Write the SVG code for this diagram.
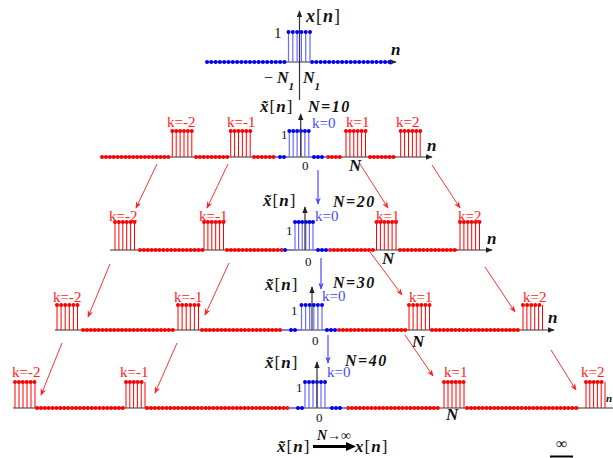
<svg xmlns="http://www.w3.org/2000/svg" width="613" height="458" viewBox="0 0 613 458" font-family="'Liberation Serif','DejaVu Serif',serif">
<style>
text{font-family:"Liberation Serif","DejaVu Serif",serif}
.ax{stroke:#333;stroke-width:1.2;fill:none}
.ra{stroke:#f00;stroke-width:1;fill:none}
.rd{stroke:#f00;stroke-width:4;stroke-linecap:round;stroke-dasharray:0 3.9;fill:none}
.bd{stroke:#0000f0;stroke-width:4;stroke-linecap:round;stroke-dasharray:0 4.3;fill:none}
.bdd{stroke:#0000f0;stroke-width:4;stroke-linecap:round;stroke-dasharray:0 4;fill:none}
.rs{stroke:#f00;stroke-width:1;fill:none}
.bs{stroke:#6a6aff;stroke-width:1.2;fill:none}
.bl{stroke:#6a6aff;stroke-width:1;fill:none}
.lab{font-weight:bold;font-style:italic;fill:#111}
.br{font-style:normal;font-weight:normal}
.num{font-size:13px;fill:#111}
.kr{font-size:15px;fill:#f22}
.kb{font-size:15px;fill:#4a4aff}
.ca{stroke:#f33;stroke-width:1;fill:none}
.cb{stroke:#4a4aff;stroke-width:1.2;fill:none}
</style>
<defs>
<marker id="ak" viewBox="0 0 10 10" refX="9" refY="5" markerWidth="7" markerHeight="7" markerUnits="userSpaceOnUse" orient="auto"><path d="M0,1 L10,5 L0,9 z" fill="#222"/></marker>
<marker id="ar" viewBox="0 0 10 10" refX="9" refY="5" markerWidth="7" markerHeight="7" markerUnits="userSpaceOnUse" orient="auto"><path d="M0,1 L10,5 L0,9 L3,5 z" fill="#f22"/></marker>
<marker id="ab" viewBox="0 0 10 10" refX="9" refY="5" markerWidth="7" markerHeight="7" markerUnits="userSpaceOnUse" orient="auto"><path d="M0,1 L10,5 L0,9 L3,5 z" fill="#4a4aff"/></marker>
</defs>

<g id="plot-x">
<path class="ax" d="M207,62 H396" marker-end="url(#ak)"/>
<path class="bl" d="M207,62 H285 M312,62 H392"/>
<path class="bd" d="M207,62 H286 M312,62 H393"/>
<path class="bs" d="M288.5,62 V32 M292.8,62 V32 M297.1,62 V32 M301.4,62 V32 M305.7,62 V32 M310,62 V32"/>
<path class="bd" d="M288.5,32 H311"/>
<path class="ax" d="M299.5,100 V11" marker-end="url(#ak)"/>
<text class="lab" x="306" y="22" font-size="18" letter-spacing="1">x<tspan class="br">[</tspan>n<tspan class="br">]</tspan></text>
<text x="274" y="38" font-size="15" fill="#111">1</text>
<text class="lab" x="391" y="55" font-size="17">n</text>
<text class="lab" x="264" y="83" font-size="16"><tspan class="br">−</tspan> N<tspan font-size="11" dy="7">1</tspan></text>
<text class="lab" x="303" y="83" font-size="16">N<tspan font-size="11" dy="7">1</tspan></text>
</g>

<g id="plot-n10">
<path class="ax" d="M102,157 H432" marker-end="url(#ak)"/>
<path class="ra" d="M102,157 H170 M196,157 H228 M254,157 H276 M328,157 H342 M370,157 H396"/>
<path class="rd" d="M102,157 H171 M196,157 H229 M254,157 H276 M328,157 H343 M370,157 H396"/>
<path class="bl" d="M276,157 H289 M310,157 H328"/>
<path class="bdd" d="M280,157 H285 M314,157 H323.5"/>
<path class="rs" d="M172.3,157 V131 M176.2,157 V131 M180.1,157 V131 M184,157 V131 M187.9,157 V131 M191.8,157 V131 M230.7,157 V131 M234.6,157 V131 M238.5,157 V131 M242.4,157 V131 M246.3,157 V131 M250.2,157 V131 M346,157 V131 M349.9,157 V131 M353.8,157 V131 M357.7,157 V131 M361.6,157 V131 M365.5,157 V131 M400.7,157 V131 M404.6,157 V131 M408.5,157 V131 M412.4,157 V131 M416.3,157 V131 M420.2,157 V131"/>
<path class="rd" d="M172.3,131 H192.5 M230.7,131 H251 M346,131 H366 M400.7,131 H421"/>
<path class="bs" d="M289.3,157 V131 M293.2,157 V131 M297.1,157 V131 M301,157 V131 M304.9,157 V131 M308.8,157 V131"/>
<path class="bd" d="M289.3,131 H309.5" style="stroke-dasharray:0 3.9"/>
<path class="ax" d="M300.7,157 V114" marker-end="url(#ak)"/>
<text class="lab" x="260" y="112" font-size="17" letter-spacing="1">x&#771;<tspan class="br">[</tspan>n<tspan class="br">]</tspan></text>
<text class="lab" x="308" y="112" font-size="16" letter-spacing="1.5">N=10</text>
<text class="kb" x="312" y="128">k=0</text>
<text class="num" x="281" y="139">1</text>
<text class="num" x="302" y="170">0</text>
<text class="kr" x="167" y="127">k=-2</text>
<text class="kr" x="227" y="127">k=-1</text>
<text class="kr" x="346" y="127">k=1</text>
<text class="kr" x="396" y="127">k=2</text>
<text class="lab" x="427" y="151" font-size="17">n</text>
<text class="lab" x="349" y="171" font-size="17">N</text>
</g>

<g id="plot-n20">
<path class="ax" d="M110,250 H492" marker-end="url(#ak)"/>
<path class="ra" d="M140,250 H202 M227,250 H282 M330,250 H373 M400,250 H458"/>
<path class="rd" d="M140,250 H203 M227,250 H283 M330,250 H373 M400,250 H458"/>
<path class="bl" d="M282,250 H295 M313,250 H330"/>
<path class="bdd" d="M285,250 H289 M318,250 H326.5"/>
<path class="rs" d="M115,250 V222 M118.9,250 V222 M122.8,250 V222 M126.7,250 V222 M130.6,250 V222 M134.5,250 V222 M204,250 V222 M207.9,250 V222 M211.8,250 V222 M215.7,250 V222 M219.6,250 V222 M223.5,250 V222 M376.5,250 V222 M380.4,250 V222 M384.3,250 V222 M388.2,250 V222 M392.1,250 V222 M396,250 V222 M460,250 V222 M463.9,250 V222 M467.8,250 V222 M471.7,250 V222 M475.6,250 V222 M479.5,250 V222"/>
<path class="rd" d="M115,222 H135 M204,222 H224 M376.5,222 H396.5 M460,222 H480"/>
<path class="bs" d="M295,250 V222 M298.6,250 V222 M302.2,250 V222 M305.8,250 V222 M309.4,250 V222 M313,250 V222"/>
<path class="bd" d="M295,222 H313.5" style="stroke-dasharray:0 3.6"/>
<path class="ax" d="M305,250 V207" marker-end="url(#ak)"/>
<text class="lab" x="263" y="206" font-size="17" letter-spacing="1">x&#771;<tspan class="br">[</tspan>n<tspan class="br">]</tspan></text>
<text class="lab" x="333" y="207" font-size="16" letter-spacing="1.5">N=20</text>
<text class="kb" x="315" y="221">k=0</text>
<text class="num" x="286" y="235">1</text>
<text class="num" x="305" y="266">0</text>
<text class="kr" x="109" y="221">k=-2</text>
<text class="kr" x="199" y="221">k=-1</text>
<text class="kr" x="376" y="221">k=1</text>
<text class="kr" x="458" y="221">k=2</text>
<text class="lab" x="487" y="244" font-size="17">n</text>
<text class="lab" x="382" y="264" font-size="17">N</text>
</g>

<g id="plot-n30">
<path class="ax" d="M55,330 H554" marker-end="url(#ak)"/>
<path class="ra" d="M83,330 H175 M202,330 H282 M339,330 H406 M432,330 H518"/>
<path class="rd" d="M83,330 H176 M202,330 H283 M339,330 H406 M432,330 H518"/>
<path class="bl" d="M282,330 H302 M322,330 H339"/>
<path class="bdd" d="M291,330 H295.5 M327,330 H335.5"/>
<path class="rs" d="M57,330 V305 M61.1,330 V305 M65.2,330 V305 M69.3,330 V305 M73.4,330 V305 M77.5,330 V305 M178,330 V305 M182.1,330 V305 M186.2,330 V305 M190.3,330 V305 M194.4,330 V305 M198.5,330 V305 M409,330 V305 M413.1,330 V305 M417.2,330 V305 M421.3,330 V305 M425.4,330 V305 M429.5,330 V305 M523,330 V305 M526.9,330 V305 M530.8,330 V305 M534.7,330 V305 M538.6,330 V305 M542.5,330 V305"/>
<path class="rd" d="M57,305 H78 M178,305 H199 M409,305 H430 M523,305 H543" style="stroke-dasharray:0 4.1"/>
<path class="bs" d="M301.5,330 V305 M305.6,330 V305 M309.7,330 V305 M313.8,330 V305 M317.9,330 V305 M322,330 V305"/>
<path class="bd" d="M301.5,305 H322.5" style="stroke-dasharray:0 4.1"/>
<path class="ax" d="M312,330 V287" marker-end="url(#ak)"/>
<text class="lab" x="265" y="290" font-size="17" letter-spacing="1">x&#771;<tspan class="br">[</tspan>n<tspan class="br">]</tspan></text>
<text class="lab" x="333" y="288" font-size="16" letter-spacing="1.5">N=30</text>
<text class="kb" x="322" y="301">k=0</text>
<text class="num" x="291" y="315">1</text>
<text class="num" x="312" y="345">0</text>
<text class="kr" x="53" y="302">k=-2</text>
<text class="kr" x="174" y="302">k=-1</text>
<text class="kr" x="409" y="302">k=1</text>
<text class="kr" x="523" y="302">k=2</text>
<text class="lab" x="548" y="323" font-size="17">n</text>
<text class="lab" x="412" y="347" font-size="17">N</text>
</g>

<g id="plot-n40">
<path class="ax" d="M13,408 H613"/>
<path class="ra" d="M37,408 H123 M147,408 H287 M348,408 H440 M467,408 H579"/>
<path class="rd" d="M37,408 H124 M147,408 H288 M348,408 H441 M467,408 H579"/>
<path class="bl" d="M287,408 H305 M325,408 H348"/>
<path class="bdd" d="M298,408 H302.5 M332,408 H340.5"/>
<path class="rs" d="M15,408 V382 M19,408 V382 M23,408 V382 M27,408 V382 M31,408 V382 M35,408 V382 M126,408 V382 M129.8,408 V382 M133.6,408 V382 M137.4,408 V382 M141.2,408 V382 M145,408 V382 M444,408 V382 M448,408 V382 M452,408 V382 M456,408 V382 M460,408 V382 M464,408 V382 M586,408 V382 M589.8,408 V382 M593.6,408 V382 M597.4,408 V382 M601.2,408 V382 M605,408 V382"/>
<path class="rd" d="M15,382 H35.5 M126,382 H145.5 M444,382 H464.5 M586,382 H605.5"/>
<path class="bs" d="M305,408 V382 M309,408 V382 M313,408 V382 M317,408 V382 M321,408 V382 M325,408 V382"/>
<path class="bd" d="M305,382 H325.5" style="stroke-dasharray:0 4"/>
<path class="ax" d="M317,408 V362" marker-end="url(#ak)"/>
<text class="lab" x="265" y="368" font-size="17" letter-spacing="1">x&#771;<tspan class="br">[</tspan>n<tspan class="br">]</tspan></text>
<text class="lab" x="345" y="366" font-size="16" letter-spacing="1.5">N=40</text>
<text class="kb" x="327" y="377">k=0</text>
<text class="num" x="296" y="392">1</text>
<text class="num" x="316" y="422">0</text>
<text class="kr" x="12" y="377">k=-2</text>
<text class="kr" x="120" y="377">k=-1</text>
<text class="kr" x="444" y="377">k=1</text>
<text class="kr" x="581" y="377">k=2</text>
<text class="lab" x="446" y="420" font-size="17">N</text>
<text class="lab" x="606" y="402" font-size="11">n</text>
</g>

<g id="limit">
<text class="lab" x="277" y="452" font-size="17" letter-spacing="1">x&#771;<tspan class="br">[</tspan>n<tspan class="br">]</tspan></text>
<text class="lab" x="317" y="440" font-size="14">N→∞</text>
<path d="M313,446.5 H348" stroke="#000" stroke-width="3"/>
<path d="M346,442 L356,446.5 L346,451 z" fill="#000"/>
<text class="lab" x="355" y="452" font-size="17" letter-spacing="1">x<tspan class="br">[</tspan>n<tspan class="br">]</tspan></text>
<text x="556" y="449" font-size="16" fill="#111">∞</text>
<path d="M550,456.5 H573" stroke="#000" stroke-width="2"/>
</g>

<g id="connectors">
<path class="ca" d="M157,164 L136,208" marker-end="url(#ar)"/>
<path class="ca" d="M228,164 L207,208" marker-end="url(#ar)"/>
<path class="ca" d="M360,164 L388,208" marker-end="url(#ar)"/>
<path class="ca" d="M432,165 L460,208" marker-end="url(#ar)"/>
<path class="ca" d="M110,264 L88,317" marker-end="url(#ar)"/>
<path class="ca" d="M229,263 L205,315" marker-end="url(#ar)"/>
<path class="ca" d="M370,252 L402,295" marker-end="url(#ar)"/>
<path class="ca" d="M485,267 L515,312" marker-end="url(#ar)"/>
<path class="ca" d="M62,343 L41,395" marker-end="url(#ar)"/>
<path class="ca" d="M177,343 L155,393" marker-end="url(#ar)"/>
<path class="ca" d="M405,335 L433,376" marker-end="url(#ar)"/>
<path class="ca" d="M551,350 L576,390" marker-end="url(#ar)"/>
<path class="cb" d="M318,170 V204" marker-end="url(#ab)"/>
<path class="cb" d="M321,258 V289" marker-end="url(#ab)"/>
<path class="cb" d="M328,335 V363" marker-end="url(#ab)"/>
</g>
</svg>
